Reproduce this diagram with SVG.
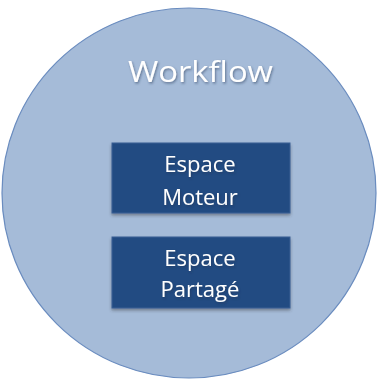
<svg xmlns="http://www.w3.org/2000/svg" width="378" height="382" viewBox="0 0 378 382">
<defs>
<filter id="ts" x="-20%" y="-20%" width="140%" height="160%"><feDropShadow dx="1" dy="1.5" stdDeviation="1" flood-color="#203050" flood-opacity="0.5"/></filter>
<filter id="bs" x="-10%" y="-10%" width="120%" height="130%"><feDropShadow dx="0" dy="2" stdDeviation="1.5" flood-color="#333" flood-opacity="0.45"/></filter>
</defs>
<style>
.t{font-family:"Open Sans","Lato","DejaVu Sans",sans-serif;fill:#ffffff;text-anchor:middle}
.box{fill:#234b82;stroke:#3a5f94;stroke-width:1}
</style>
<rect width="378" height="382" fill="#ffffff"/>
<g id="workflow">
<ellipse cx="189" cy="193" rx="187" ry="185" fill="#a5bbd8" stroke="#6a8cbf" stroke-width="1.2"/>
<text class="t" x="200.5" y="82" font-size="29" textLength="145" lengthAdjust="spacingAndGlyphs" filter="url(#ts)">Workflow</text>
</g>
<g id="espace-moteur">
<rect class="box" x="112" y="143" width="178" height="70" filter="url(#bs)"/>
<text class="t" x="200" y="172" font-size="22" filter="url(#ts)">Espace</text>
<text class="t" x="200" y="205" font-size="22" filter="url(#ts)">Moteur</text>
</g>
<g id="espace-partage">
<rect class="box" x="112" y="237" width="178" height="71" filter="url(#bs)"/>
<text class="t" x="200" y="266" font-size="22" filter="url(#ts)">Espace</text>
<text class="t" x="200" y="297" font-size="22" filter="url(#ts)">Partagé</text>
</g>
<g id="connectors"/>
</svg>
